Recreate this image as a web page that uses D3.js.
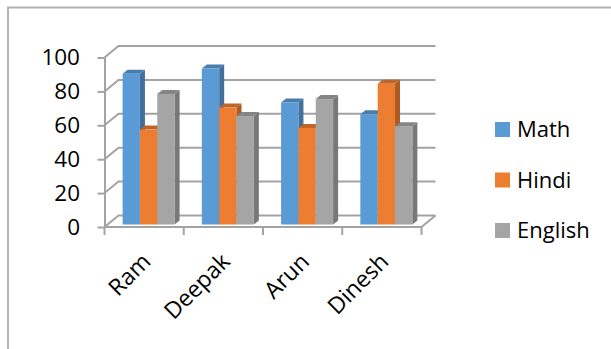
<!DOCTYPE html>
<html>
<head>
<meta charset="utf-8">
<script src="https://cdnjs.cloudflare.com/ajax/libs/d3/7.8.5/d3.min.js"></script>
<style>
  body { margin: 0; background: #fff; }
  text { font-family: "Open Sans", sans-serif; fill: #000; }
</style>
</head>
<body>
<svg class="plot" width="611" height="349"></svg>
<script>
const students = ["Ram", "Deepak", "Arun", "Dinesh"];
const subjects = ["Math", "Hindi", "English"];
const math = [89, 92, 72, 65];
const hindi = [56, 69, 57, 83];
const english = [77, 64, 74, 58];
const yTicks = [0, 20, 40, 60, 80, 100];

const colors = ["#5b9bd5", "#ed7d31", "#a5a5a5"];
const series = [math, hindi, english];

const svg = d3.select(".plot");

// outer frame (top + left border of the chart area)
svg.append("path")
  .attr("d", "M8,349 L8,7.5 L611,7.5")
  .attr("fill", "none")
  .attr("stroke", "#b3b3b3")
  .attr("stroke-width", 2);

// front plane scales, back wall = front shifted by depth
const depth = { dx: 14, dy: -11.5 };
const x0 = d3.scaleBand().domain(students).range([104.5, 421.5]);
const x1 = d3.scaleBand().domain(subjects).range([13.6, 65.6]);
const y = d3.scaleLinear().domain([0, 100]).range([227, 57.5]);

const gridColor = "#a3a3a3";
const grid = svg.append("g").attr("fill", "none").attr("stroke", gridColor).attr("stroke-width", 2);

// back wall gridlines + left side wall diagonals
yTicks.forEach(t => {
  const yf = y(t);
  const xl = x0.range()[0], xr = x0.range()[1];
  grid.append("path")
    .attr("d", `M${xl},${yf} L${xl + depth.dx},${yf + depth.dy} L${xr + depth.dx},${yf + depth.dy}`);
});

// floor: right diagonal + front edge
grid.append("path")
  .attr("d", `M${x0.range()[0]},${y(0)} L${x0.range()[1]},${y(0)} L${x0.range()[1] + depth.dx},${y(0) + depth.dy}`);

// bars (front face shifted into the floor a bit)
const shift = { dx: 4.5, dy: -2.5 };
const bar = { dx: 5, dy: -4 };
const bw = x1.bandwidth();

const rows = [];
students.forEach((s, i) => {
  subjects.forEach((sub, j) => {
    rows.push({ student: s, subject: sub, value: series[j][i], color: colors[j] });
  });
});

const bars = svg.append("g").selectAll("g")
  .data(rows)
  .enter().append("g");

bars.each(function (d) {
  const g = d3.select(this);
  const left = x0(d.student) + x1(d.subject) + shift.dx;
  const top = y(d.value) + shift.dy;
  const bottom = y(0) + shift.dy;
  const c = d3.color(d.color);
  // side
  g.append("path")
    .attr("d", `M${left + bw},${top} L${left + bw + bar.dx},${top + bar.dy} L${left + bw + bar.dx},${bottom + bar.dy} L${left + bw},${bottom}Z`)
    .attr("fill", c.darker(0.9));
  // top
  g.append("path")
    .attr("d", `M${left},${top} L${left + bar.dx},${top + bar.dy} L${left + bw + bar.dx},${top + bar.dy} L${left + bw},${top}Z`)
    .attr("fill", c.darker(0.6));
  // front
  g.append("rect")
    .attr("x", left)
    .attr("y", top)
    .attr("width", bw)
    .attr("height", bottom - top)
    .attr("fill", d.color);
});

// Y axis on the front left edge
const yAxis = svg.append("g")
  .attr("transform", `translate(${x0.range()[0]},0)`)
  .call(d3.axisLeft(y).tickValues(yTicks).tickSize(7).tickSizeOuter(0).tickPadding(17.5));
yAxis.selectAll("line, path").attr("stroke", gridColor).attr("stroke-width", 2);
yAxis.selectAll("text").style("font-size", "22.5px").style("font-family", "Open Sans");

// X axis ticks at the category boundaries
const bounds = students.map(s => x0(s)).concat([x0.range()[1]]);
svg.append("g").selectAll("line")
  .data(bounds)
  .enter().append("line")
  .attr("x1", d => d).attr("x2", d => d)
  .attr("y1", y(0)).attr("y2", y(0) + 8)
  .attr("stroke", gridColor)
  .attr("stroke-width", 2);

// category labels, rotated
svg.append("g").selectAll("text")
  .data(students)
  .enter().append("text")
  .attr("transform", d => `translate(${x0(d) + x0.bandwidth() / 2 + 8},${263}) rotate(-45)`)
  .attr("text-anchor", "end")
  .style("font-size", "23px")
  .text(d => d);

// legend
const legend = svg.append("g").selectAll("g")
  .data(subjects)
  .enter().append("g")
  .attr("transform", (d, i) => `translate(495,${122 + i * 50.5})`);

legend.append("rect")
  .attr("width", 15)
  .attr("height", 15)
  .attr("fill", (d, i) => colors[i]);

legend.append("text")
  .attr("x", 22)
  .attr("y", 15)
  .style("font-size", "22px")
  .text(d => d);
</script>
</body>
</html>
